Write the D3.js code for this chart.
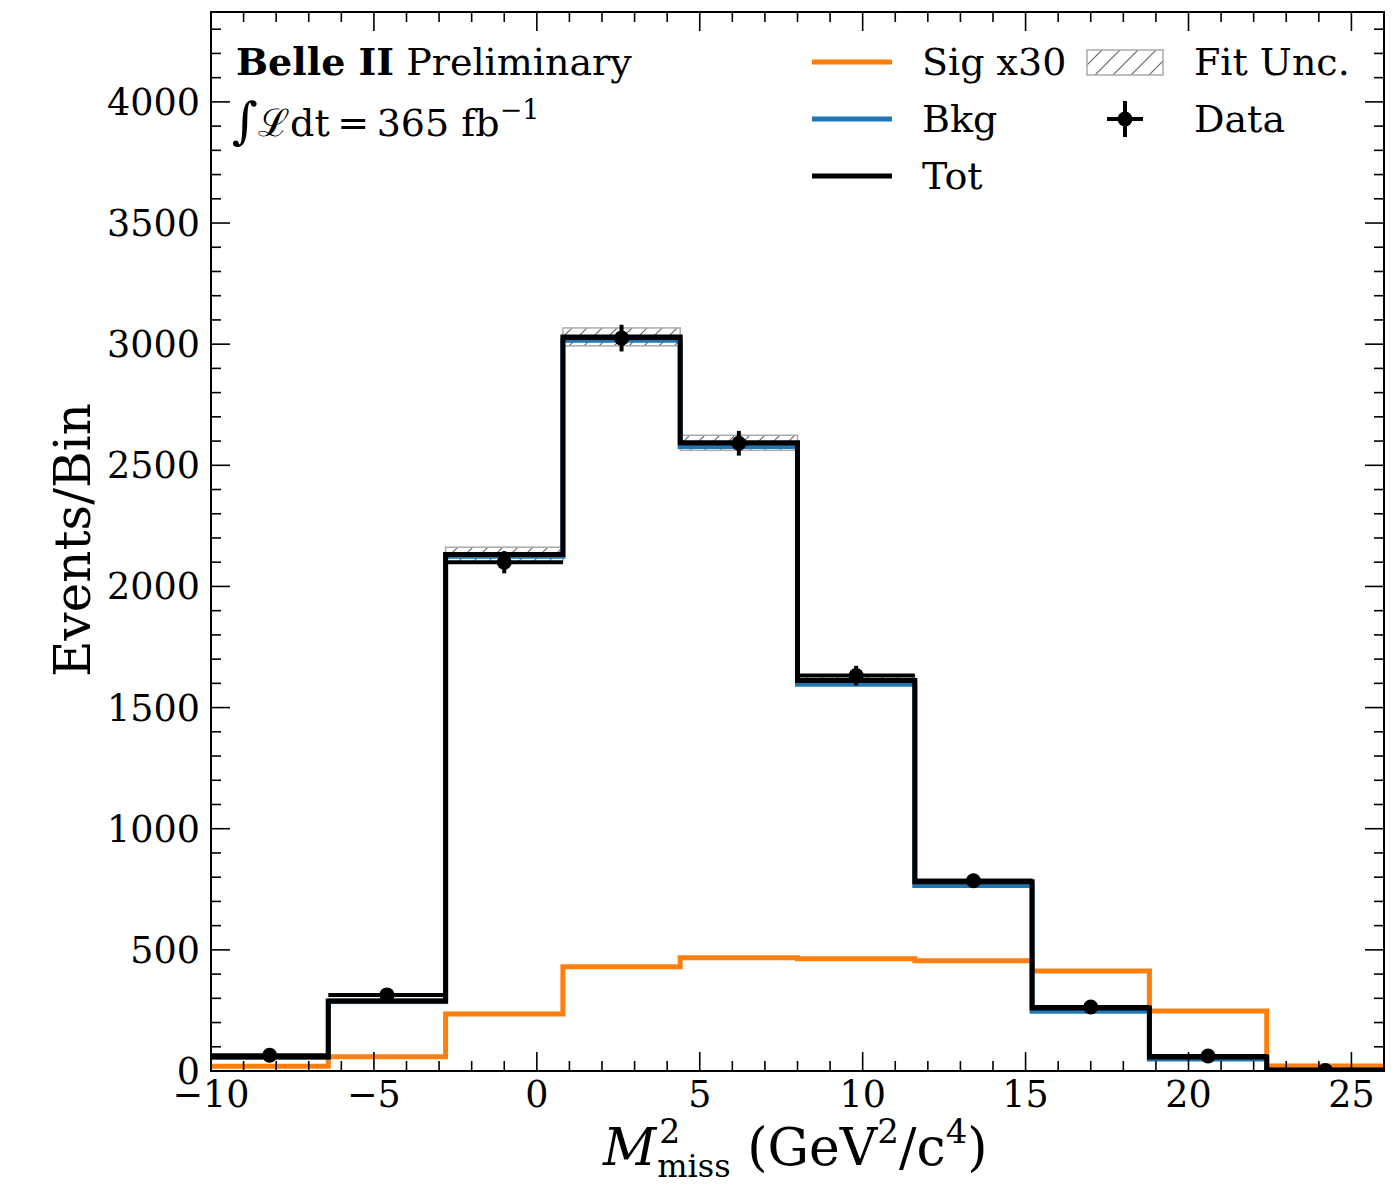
<!DOCTYPE html>
<html><head><meta charset="utf-8">
<script src="https://cdn.jsdelivr.net/npm/d3@7"></script>
<style>body{margin:0;background:#fff}svg{display:block}text{font-family:"DejaVu Serif",serif;fill:#000}</style>
</head><body><svg id="c" width="1394" height="1184"></svg>
<script>
const binEdges = [-10, -6.4, -2.8, 0.8, 4.4, 8, 11.6, 15.2, 18.8, 22.4, 26];
const totVals  = [58, 289, 2132, 3030, 2593, 1612, 781, 260, 58, 4];
const sigX30   = [20, 59, 235, 430, 467, 463, 455, 413, 248, 21];
const bkgVals  = totVals.map((t, i) => t - sigX30[i] / 30);
const dataVals = [65, 314, 2100, 3025, 2591, 1632, 785, 264, 62, 2];
const fitUnc   = [4, 10, 30, 37, 31, 20, 12, 6, 3, 1];
const xTicks = [-10, -5, 0, 5, 10, 15, 20, 25];
const yTicks = [0, 500, 1000, 1500, 2000, 2500, 3000, 3500, 4000];

const svg = d3.select("#c");
const L = 211, R = 1384, T = 12, B = 1071;
const x = d3.scaleLinear().domain([-10, 26]).range([L, R]);
const y = d3.scaleLinear().domain([0, 4371]).range([B, T]);

const defs = svg.append("defs");
const pat = defs.append("pattern").attr("id", "hatch").attr("patternUnits", "userSpaceOnUse")
  .attr("width", 15).attr("height", 15);
pat.append("path").attr("d", "M-2,17 L17,-2 M-2,2 L2,-2 M13,17 L17,13").attr("stroke", "#666").attr("stroke-width", 1.2);
const pat2 = defs.append("pattern").attr("id", "hatch2").attr("patternUnits", "userSpaceOnUse")
  .attr("width", 18).attr("height", 18);
pat2.append("path").attr("d", "M-2,20 L20,-2 M-2,2 L2,-2 M16,20 L20,16").attr("stroke", "#666").attr("stroke-width", 1.2);
defs.append("clipPath").attr("id", "clip").append("rect").attr("x", L).attr("y", T).attr("width", R - L).attr("height", B - T);

const g = svg.append("g").attr("clip-path", "url(#clip)");

const stepLine = vals => d3.line().x(d => x(d[0])).y(d => y(d[1])).curve(d3.curveStepAfter)(
  binEdges.map((e, i) => [e, vals[Math.min(i, vals.length - 1)]]));

// fit uncertainty band
binEdges.slice(0, -1).forEach((e, i) => {
  g.append("rect").attr("x", x(e)).attr("width", x(binEdges[i + 1]) - x(e))
    .attr("y", y(totVals[i] + fitUnc[i])).attr("height", y(totVals[i] - fitUnc[i]) - y(totVals[i] + fitUnc[i]))
    .attr("fill", "url(#hatch)").attr("stroke", "#aaa").attr("stroke-width", 1.5);
});

g.append("path").attr("d", stepLine(sigX30)).attr("fill", "none").attr("stroke", "#ff7f0e").attr("stroke-width", 5);
g.append("path").attr("d", stepLine(bkgVals)).attr("fill", "none").attr("stroke", "#1f77b4").attr("stroke-width", 5);
g.append("path").attr("d", stepLine(totVals)).attr("fill", "none").attr("stroke", "#000").attr("stroke-width", 5);

// data
dataVals.forEach((v, i) => {
  const cx = x((binEdges[i] + binEdges[i + 1]) / 2), err = Math.sqrt(v);
  g.append("line").attr("x1", x(binEdges[i])).attr("x2", x(binEdges[i + 1])).attr("y1", y(v)).attr("y2", y(v))
    .attr("stroke", "#000").attr("stroke-width", 4);
  g.append("line").attr("x1", cx).attr("x2", cx).attr("y1", y(v + err)).attr("y2", y(Math.max(0, v - err)))
    .attr("stroke", "#000").attr("stroke-width", 4);
  g.append("circle").attr("cx", cx).attr("cy", y(v)).attr("r", 7.5).attr("fill", "#000");
});

// axes frame
svg.append("rect").attr("x", L).attr("y", T).attr("width", R - L).attr("height", B - T)
  .attr("fill", "none").attr("stroke", "#000").attr("stroke-width", 2);

const tk = svg.append("g").attr("stroke", "#000").attr("stroke-width", 1.6);
const xMinor = d3.range(-10, 27, 1), yMinor = d3.range(0, 4371, 100);
xMinor.forEach(v => {
  const len = xTicks.includes(v) ? 19 : 10;
  tk.append("line").attr("x1", x(v)).attr("x2", x(v)).attr("y1", B).attr("y2", B - len);
  tk.append("line").attr("x1", x(v)).attr("x2", x(v)).attr("y1", T).attr("y2", T + len);
});
yMinor.forEach(v => {
  const len = yTicks.includes(v) ? 19 : 10;
  tk.append("line").attr("x1", L).attr("x2", L + len).attr("y1", y(v)).attr("y2", y(v));
  tk.append("line").attr("x1", R).attr("x2", R - len).attr("y1", y(v)).attr("y2", y(v));
});

const fmt = v => v < 0 ? "\u2212" + Math.abs(v) : String(v);
xTicks.forEach(v => svg.append("text").attr("x", x(v)).attr("y", B + 36).attr("text-anchor", "middle")
  .attr("font-size", 36.5).text(fmt(v)));
yTicks.forEach(v => svg.append("text").attr("x", 200).attr("y", y(v) + 13).attr("text-anchor", "end")
  .attr("font-size", 36.5).text(v));

// axis labels
svg.append("text").attr("transform", "translate(90,540) rotate(-90)").attr("text-anchor", "middle")
  .attr("font-size", 50).text("Events/Bin");
const xl = svg.append("text").attr("x", 603).attr("y", 1165).attr("font-size", 52);
xl.append("tspan").attr("font-style", "italic").text("M");
xl.append("tspan").attr("font-size", 33).attr("dx", 3).attr("dy", -22).text("2");
xl.append("tspan").attr("font-size", 32).attr("dx", -23).attr("dy", 34).text("miss");
xl.append("tspan").attr("dy", -12).text(" (GeV");
xl.append("tspan").attr("font-size", 34).attr("dy", -22).text("2");
xl.append("tspan").attr("dy", 22).text("/c");
xl.append("tspan").attr("font-size", 34).attr("dy", -22).text("4");
xl.append("tspan").attr("dy", 22).text(")");

// Belle II text
const t1 = svg.append("text").attr("x", 236).attr("y", 75).attr("font-size", 38);
t1.append("tspan").attr("font-weight", "bold").text("Belle II");
t1.append("tspan").text(" Preliminary");
const t2 = svg.append("text").attr("x", 232).attr("y", 136).attr("font-size", 38);
t2.append("tspan").attr("font-size", 50).attr("dy", 2).attr("font-style", "italic").text("\u222B");
t2.append("tspan").attr("dy", -2).text("\u2112");
t2.append("tspan").text("dt\u2009=\u2009365 fb");
t2.append("tspan").attr("font-size", 27).attr("dy", -17).text("\u22121");

// legend
const legItems = [
  {label: "Sig x30", color: "#ff7f0e", y: 62},
  {label: "Bkg", color: "#1f77b4", y: 119},
  {label: "Tot", color: "#000", y: 176}
];
legItems.forEach(d => {
  svg.append("line").attr("x1", 812).attr("x2", 892).attr("y1", d.y).attr("y2", d.y)
    .attr("stroke", d.color).attr("stroke-width", 5);
  svg.append("text").attr("x", 922).attr("y", d.y + 13).attr("font-size", 38).text(d.label);
});
svg.append("rect").attr("x", 1087).attr("y", 50).attr("width", 76).attr("height", 25)
  .attr("fill", "url(#hatch2)").attr("stroke", "#aaa").attr("stroke-width", 1.5);
svg.append("text").attr("x", 1194).attr("y", 75).attr("font-size", 38).text("Fit Unc.");
svg.append("line").attr("x1", 1107).attr("x2", 1143).attr("y1", 119).attr("y2", 119).attr("stroke", "#000").attr("stroke-width", 4);
svg.append("line").attr("x1", 1125).attr("x2", 1125).attr("y1", 101).attr("y2", 137).attr("stroke", "#000").attr("stroke-width", 4);
svg.append("circle").attr("cx", 1125).attr("cy", 119).attr("r", 7.5).attr("fill", "#000");
svg.append("text").attr("x", 1194).attr("y", 132).attr("font-size", 38).text("Data");
</script></body></html>
